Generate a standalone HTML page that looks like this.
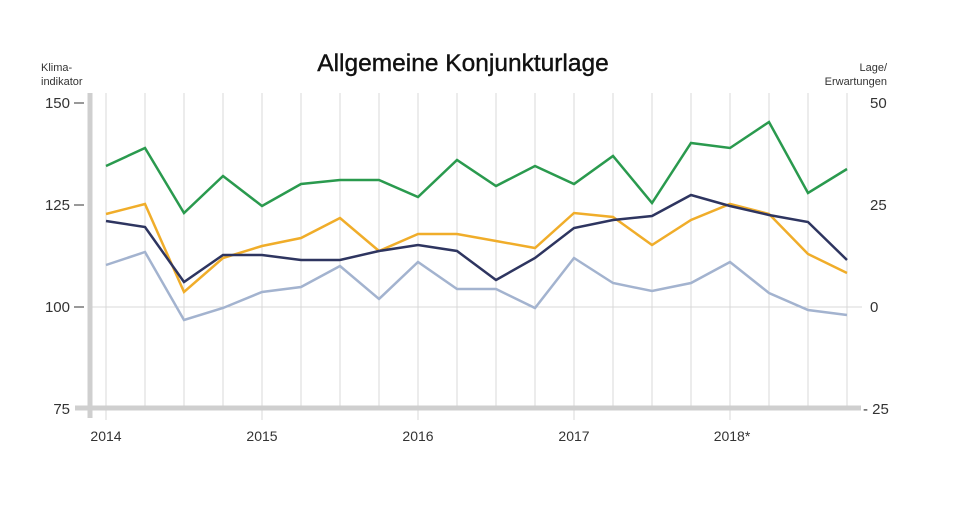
<!DOCTYPE html>
<html><head><meta charset="utf-8"><style>
body{margin:0;background:#fff;}
svg{display:block;font-family:"Liberation Sans",Arial,sans-serif;}
</style></head><body>
<svg width="980" height="505" viewBox="0 0 980 505">
<text x="463" y="71" font-size="24.5" text-anchor="middle" fill="#111" stroke="#111" stroke-width="0.4">Allgemeine Konjunkturlage</text>
<text x="41" y="71" font-size="11" fill="#333">Klima-</text>
<text x="41" y="85" font-size="11" fill="#333">indikator</text>
<text x="887" y="71" font-size="11" fill="#333" text-anchor="end">Lage/</text>
<text x="887" y="85" font-size="11" fill="#333" text-anchor="end">Erwartungen</text>
<g stroke="#d8d8d8" stroke-width="1">
<line x1="106" y1="93" x2="106" y2="420"/><line x1="145" y1="93" x2="145" y2="408"/><line x1="184" y1="93" x2="184" y2="408"/><line x1="223" y1="93" x2="223" y2="408"/>
<line x1="262" y1="93" x2="262" y2="420"/><line x1="301" y1="93" x2="301" y2="408"/><line x1="340" y1="93" x2="340" y2="408"/><line x1="379" y1="93" x2="379" y2="408"/>
<line x1="418" y1="93" x2="418" y2="420"/><line x1="457" y1="93" x2="457" y2="408"/><line x1="496" y1="93" x2="496" y2="408"/><line x1="535" y1="93" x2="535" y2="408"/>
<line x1="574" y1="93" x2="574" y2="420"/><line x1="613" y1="93" x2="613" y2="408"/><line x1="652" y1="93" x2="652" y2="408"/><line x1="691" y1="93" x2="691" y2="408"/>
<line x1="730" y1="93" x2="730" y2="420"/><line x1="769" y1="93" x2="769" y2="408"/><line x1="808" y1="93" x2="808" y2="408"/><line x1="847" y1="93" x2="847" y2="408"/>
<line x1="90" y1="307" x2="862" y2="307"/>
</g>
<g stroke="#333" stroke-width="1"><line x1="74" y1="103" x2="84" y2="103"/><line x1="74" y1="205" x2="84" y2="205"/><line x1="74" y1="307" x2="84" y2="307"/></g>
<line x1="90" y1="93" x2="90" y2="418" stroke="#cfcfcf" stroke-width="5"/>
<line x1="75" y1="408" x2="861" y2="408" stroke="#cfcfcf" stroke-width="5"/>
<g font-size="15" fill="#333">
<text x="70" y="108" text-anchor="end">150</text><text x="70" y="210" text-anchor="end">125</text><text x="70" y="312" text-anchor="end">100</text><text x="70" y="414" text-anchor="end">75</text>
<text x="870" y="108">50</text><text x="870" y="210">25</text><text x="870" y="312">0</text><text x="863" y="414">- 25</text>
</g>
<g font-size="14" fill="#333">
<text x="106" y="441" text-anchor="middle">2014</text><text x="262" y="441" text-anchor="middle">2015</text><text x="418" y="441" text-anchor="middle">2016</text><text x="574" y="441" text-anchor="middle">2017</text><text x="732" y="441" text-anchor="middle">2018*</text>
</g>
<g fill="none" stroke-width="2.5" stroke-linejoin="miter">
<polyline stroke="#a3b3cf" points="106,265 145,252 184,320 223,308 262,292 301,287 340,266 379,299 418,262 457,289 496,289 535,308 574,258 613,283 652,291 691,283 730,262 769,293 808,310 847,315"/>
<polyline stroke="#f0ad2a" points="106,214 145,204 184,292 223,258 262,246 301,238 340,218 379,251 418,234 457,234 496,241 535,248 574,213 613,217 652,245 691,220 730,204 769,214 808,254 847,273"/>
<polyline stroke="#2e3560" points="106,221 145,227 184,282 223,255 262,255 301,260 340,260 379,251 418,245 457,251 496,280 535,258 574,228 613,220 652,216 691,195 730,206 769,215 808,222 847,260"/>
<polyline stroke="#2a9a4e" points="106,166 145,148 184,213 223,176 262,206 301,184 340,180 379,180 418,197 457,160 496,186 535,166 574,184 613,156 652,203 691,143 730,148 769,122 808,193 847,169"/>
</g>
</svg>
</body></html>
